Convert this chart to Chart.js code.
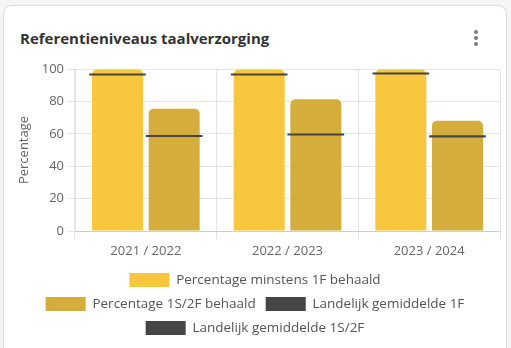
<!DOCTYPE html>
<html>
<head>
<meta charset="utf-8">
<script src="https://cdn.jsdelivr.net/npm/chart.js@4"></script>
<style>
  html, body { margin: 0; padding: 0; background: #f5f5f5; width: 511px; height: 348px; overflow: hidden; }
  .card { position: absolute; left: 3px; top: 5px; width: 502px; height: 360px; background: #fff; border: 1px solid #dcdcdc; border-radius: 9px; }
  .title { position: absolute; left: 20px; top: 28px; font-family: "Open Sans", sans-serif; font-weight: 700; font-size: 15px; color: #333; white-space: nowrap; }
  .dot { position: absolute; left: 474px; width: 4px; height: 4px; border-radius: 50%; background: #7a7a7a; }
  .wrap { position: absolute; left: 0; top: 55px; width: 511px; height: 293px; }
</style>
</head>
<body>
<div class="card"></div>
<div class="title">Referentieniveaus taalverzorging</div>
<div class="dot" style="top:30px"></div>
<div class="dot" style="top:36px"></div>
<div class="dot" style="top:42px"></div>
<div class="wrap"><canvas id="c"></canvas></div>
<script>
const categories = ["2021 / 2022", "2022 / 2023", "2023 / 2024"];
const seriesNames = ["Percentage minstens 1F behaald", "Percentage 1S/2F behaald", "Landelijk gemiddelde 1F", "Landelijk gemiddelde 1S/2F"];
const pct1F = [99.7, 99.7, 99.7];
const pct1S2F = [75.4, 81.3, 68.1];
const avg1F = [96.6, 96.6, 97.2];
const avg1S2F = [58.6, 59.6, 58.4];
const yTicks = [0, 20, 40, 60, 80, 100];

const half = 0.65;
const asLine = arr => arr.map(v => [v - half, v + half]);

const FONT = "'Open Sans', sans-serif";

const wrapLegend = {
  id: 'wrapLegend',
  afterInit(chart) {
    const lg = chart.legend;
    if (!lg) return;
    const orig = lg._fitRows;
    lg._fitRows = function (...a) {
      const mw = this.maxWidth;
      this.maxWidth = Math.min(mw, 460);
      const r = orig.apply(this, a);
      this.maxWidth = mw;
      return r;
    };
  }
};

new Chart(document.getElementById('c'), {
  type: 'bar',
  data: {
    labels: categories,
    datasets: [
      { label: seriesNames[0], data: pct1F, backgroundColor: '#F9C73D', stack: 'a', order: 2, borderRadius: 5, barPercentage: 0.9 },
      { label: seriesNames[1], data: pct1S2F, backgroundColor: '#D4AD3C', stack: 'b', order: 2, borderRadius: 5, barPercentage: 0.9 },
      { label: seriesNames[2], data: asLine(avg1F), backgroundColor: '#454545', stack: 'a', order: 1, barPercentage: 1.0, borderSkipped: false },
      { label: seriesNames[3], data: asLine(avg1S2F), backgroundColor: '#454545', stack: 'b', order: 1, barPercentage: 1.0, borderSkipped: false }
    ]
  },
  options: {
    responsive: true,
    maintainAspectRatio: false,
    animation: false,
    layout: { padding: { left: 10, right: 11, top: 14, bottom: 3 } },
    scales: {
      x: {
        stacked: true,
        grid: { color: 'rgba(0,0,0,0.1)', offset: true },
        ticks: { color: '#666', font: { family: FONT, size: 13 }, padding: 4 },
        afterFit(s) { s.height = 32; }
      },
      y: {
        stacked: false,
        min: 0,
        max: 100,
        afterBuildTicks(s) { s.ticks = yTicks.map(v => ({ value: v })); },
        grid: { color: 'rgba(0,0,0,0.1)' },
        ticks: { color: '#666', font: { family: FONT, size: 13 }, padding: 3 },
        title: { display: true, text: 'Percentage', color: '#666', font: { family: FONT, size: 13 }, padding: { top: 6, bottom: 4 } },
        afterFit(s) { s.width = 65; }
      }
    },
    plugins: {
      legend: {
        position: 'bottom',
        labels: {
          color: '#555',
          font: { family: FONT, size: 13.5 },
          boxWidth: 40,
          boxHeight: 14,
          padding: 10,
          sort: (a, b) => a.datasetIndex - b.datasetIndex
        }
      },
      tooltip: { enabled: false }
    }
  },
  plugins: [wrapLegend]
});
</script>
</body>
</html>
